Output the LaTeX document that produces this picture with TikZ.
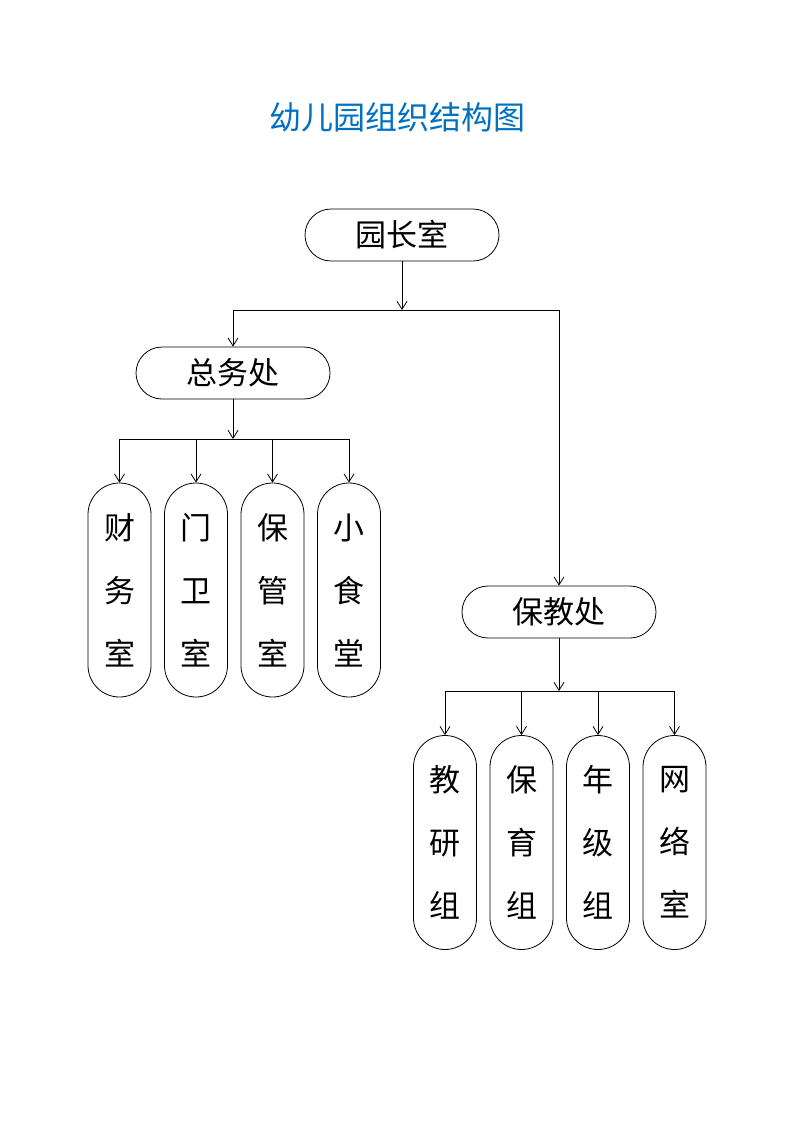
\documentclass[tikz,border=0pt]{standalone}
\usepackage{fontspec}
\setmainfont{Noto Sans CJK SC}
\usetikzlibrary{arrows.meta}
\definecolor{titleblue}{RGB}{0,112,192}
\tikzset{
  hbox/.style={draw, line width=0.8pt, rounded corners=26pt, minimum width=194pt, minimum height=52pt, inner sep=0pt, font=\fontsize{31}{36}\selectfont},
  vbox/.style={draw, line width=0.8pt, rounded corners=31.5pt, minimum width=63pt, minimum height=214pt, inner sep=0pt, align=center, font=\fontsize{31}{63}\selectfont},
  conn/.style={line width=0.8pt},
  arr/.style={line width=0.8pt, -{Straight Barb[length=8pt,width=10pt]}}
}
\begin{document}
\begin{tikzpicture}[x=1pt,y=-1pt]
\useasboundingbox (0,0) rectangle (793,1122);
\node[text=titleblue, font=\fontsize{32}{36}\selectfont] (title) at (397,117) {幼儿园组织结构图};
\node[hbox] (yz) at (402,235) {园长室};
\node[hbox] (zw) at (233,373) {总务处};
\node[hbox] (bj) at (559,612) {保教处};
% level 1 connectors
\coordinate (j1) at (402,310);
\coordinate (l1) at (233,310);
\coordinate (r1) at (559,310);
\draw[arr] (yz.south) -- (j1);
\draw[conn] (l1) -- (r1);
\draw[arr] (l1) -- (zw.north);
\draw[arr] (r1) -- (bj.north);
% left children
\node[vbox] (c1) at (119.5,590) {财\\务\\室};
\node[vbox] (c2) at (196,590) {门\\卫\\室};
\node[vbox] (c3) at (272.5,590) {保\\管\\室};
\node[vbox] (c4) at (349,590) {小\\食\\堂};
\coordinate (j2) at (233,439);
\coordinate (l2) at (119.5,439);
\coordinate (r2) at (349,439);
\draw[arr] (zw.south) -- (j2);
\draw[conn] (l2) -- (r2);
\foreach \n in {c1,c2,c3,c4}{
  \draw[arr] (\n.north |- j2) -- (\n.north);
}
% right children
\node[vbox] (d1) at (445,842.5) {教\\研\\组};
\node[vbox] (d2) at (521.5,842.5) {保\\育\\组};
\node[vbox] (d3) at (598,842.5) {年\\级\\组};
\node[vbox] (d4) at (674.5,842.5) {网\\络\\室};
\coordinate (j3) at (559,691);
\coordinate (l3) at (445,691);
\coordinate (r3) at (674.5,691);
\draw[arr] (bj.south) -- (j3);
\draw[conn] (l3) -- (r3);
\foreach \n in {d1,d2,d3,d4}{
  \draw[arr] (\n.north |- j3) -- (\n.north);
}
\end{tikzpicture}
\end{document}
